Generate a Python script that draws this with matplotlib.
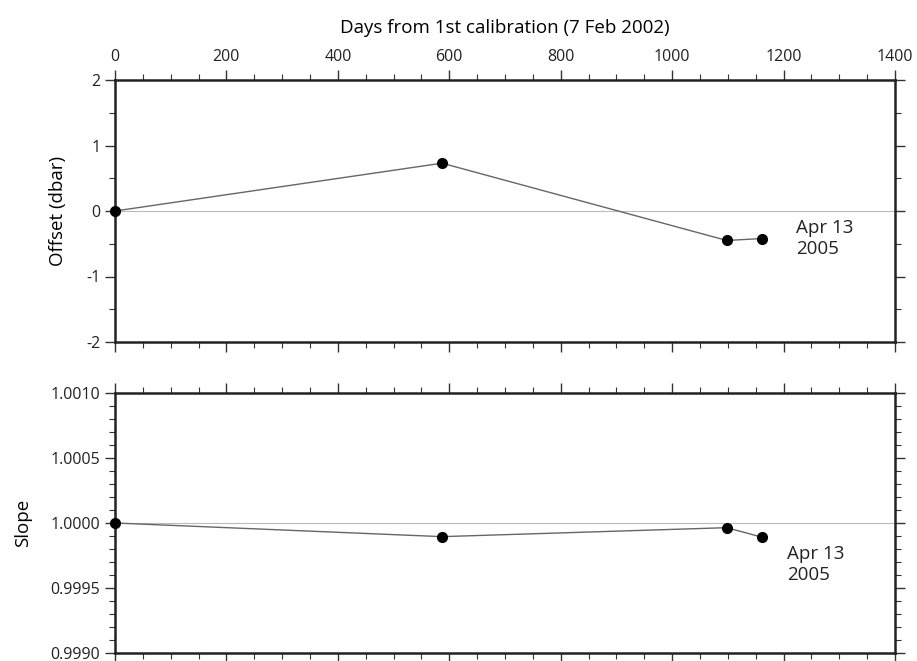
import matplotlib.pyplot as plt
from matplotlib.ticker import MultipleLocator, NullFormatter

plt.rcParams['font.family'] = ['Open Sans', 'DejaVu Sans']
plt.rcParams['axes.unicode_minus'] = False

# calibration dates, days since 7 Feb 2002
days = [0, 587, 1098, 1162]
offset = [0.0, 0.73, -0.45, -0.42]
slope = [1.0, 0.999895, 0.999964, 0.99989]

fig = plt.figure(figsize=(9.17, 6.61), dpi=100)
W, H = 917, 661
ax1 = fig.add_axes([115 / W, 1 - 342 / H, 780 / W, 262 / H])
ax2 = fig.add_axes([115 / W, 1 - 653 / H, 780 / W, 260 / H])

line_kw = dict(color='#666666', lw=1.0, marker='o', ms=7,
               mfc='black', mec='black', zorder=3, clip_on=False)

ax1.axhline(0, color='#bbbbbb', lw=0.8, zorder=1)
ax1.plot(days, offset, **line_kw)
ax1.set_ylim(-2, 2)
ax1.yaxis.set_major_locator(MultipleLocator(1))
ax1.yaxis.set_minor_locator(MultipleLocator(0.5))
ax1.set_ylabel('Offset (dbar)', fontsize=13.5)
ax1.yaxis.set_label_coords(-0.061, 0.5)
ax1.text(1222, -0.42, 'Apr 13\n2005', fontsize=13.5, va='center', ha='left',
         color='#222222', linespacing=1.25)

ax2.axhline(1.0, color='#bbbbbb', lw=0.8, zorder=1)
ax2.plot(days, slope, **line_kw)
ax2.set_ylim(0.9990, 1.0010)
ax2.yaxis.set_major_locator(MultipleLocator(0.0005))
ax2.yaxis.set_minor_locator(MultipleLocator(0.0001))
ax2.yaxis.set_major_formatter(lambda v, p: f'{v:.4f}')
ax2.set_ylabel('Slope', fontsize=13.5)
ax2.yaxis.set_label_coords(-0.106, 0.5)
ax2.text(1206, 0.99968, 'Apr 13\n2005', fontsize=13.5, va='center', ha='left',
         color='#222222', linespacing=1.25)

for ax in (ax1, ax2):
    ax.set_xlim(0, 1400)
    ax.xaxis.set_major_locator(MultipleLocator(200))
    ax.xaxis.set_minor_locator(MultipleLocator(50))
    for s in ax.spines.values():
        s.set_linewidth(1.8)
        s.set_color('#222222')
    ax.tick_params(which='both', direction='out', top=True, right=True,
                   colors='#333333', labelcolor='#222222', labelsize=11.5)
    ax.tick_params(which='major', length=7, width=1.0)
    ax.tick_params(which='minor', length=4, width=0.8)

ax1.tick_params(axis='x', labeltop=True, labelbottom=False)
ax1.xaxis.set_label_position('top')
ax1.set_xlabel('Days from 1st calibration (7 Feb 2002)', fontsize=13.5, labelpad=12)
ax2.tick_params(axis='x', labeltop=False, labelbottom=False)
ax2.xaxis.set_minor_formatter(NullFormatter())

fig.savefig('out.png', dpi=100)
